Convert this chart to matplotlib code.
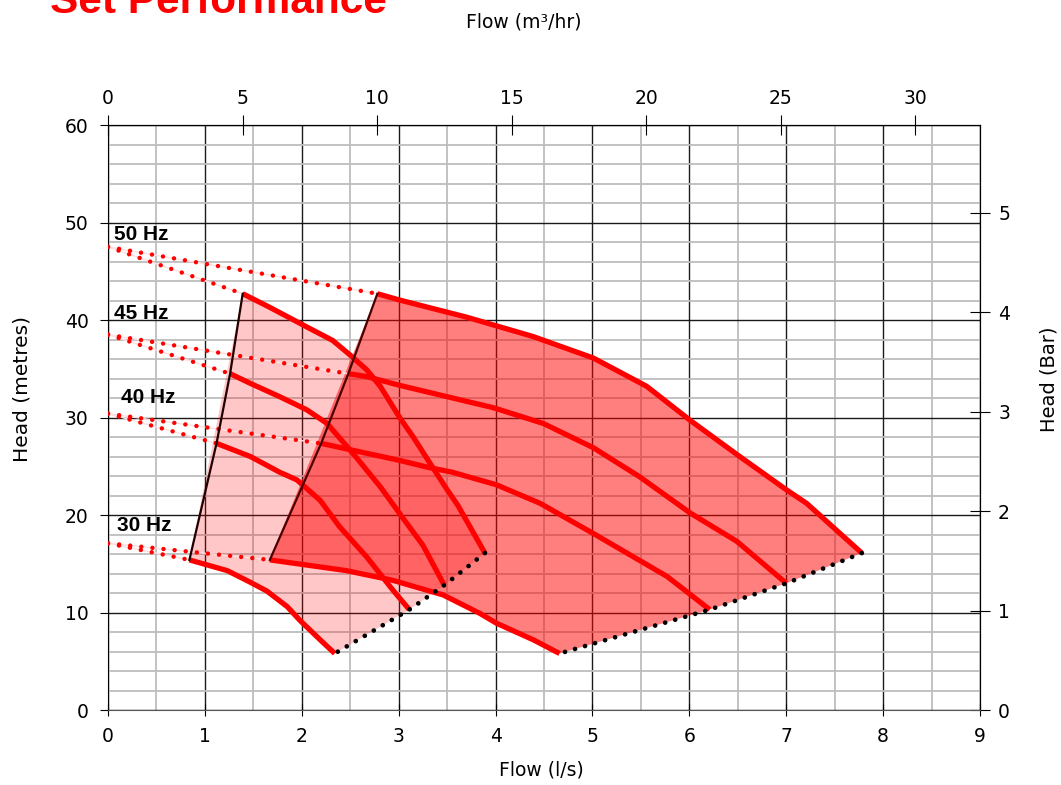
import numpy as np
import matplotlib.pyplot as plt

# frequencies and shut-off heads (m)
freqs = ['50 Hz', '45 Hz', '40 Hz', '30 Hz']
shutoff = [47.5, 38.5, 30.4, 17.1]

# single pump curves, flow (l/s) / head (m)
small_q = [
    [1.39, 1.67, 2.05, 2.32, 2.50, 2.67, 2.81, 3.01, 3.15, 3.35, 3.50, 3.61, 3.89],
    [1.26, 1.47, 1.78, 2.05, 2.26, 2.53, 2.81, 3.05, 3.25, 3.47],
    [1.12, 1.47, 1.77, 1.95, 2.19, 2.39, 2.67, 2.94, 3.11],
    [0.84, 1.23, 1.45, 1.64, 1.85, 1.98, 2.19, 2.34],
]
small_h = [
    [42.7, 41.3, 39.3, 37.9, 36.4, 34.9, 33.2, 30.0, 28.0, 24.9, 22.6, 21.0, 16.1],
    [34.5, 33.5, 32.1, 30.8, 29.4, 26.3, 22.9, 19.6, 16.9, 12.8],
    [27.35, 26.0, 24.4, 23.6, 21.5, 18.8, 15.7, 12.3, 10.3],
    [15.4, 14.3, 13.2, 12.2, 10.6, 9.2, 7.2, 5.8],
]

# twin pump curves
large_q = [
    [2.78, 3.01, 3.70, 4.39, 5.01, 5.56, 6.01, 6.52, 7.00, 7.21, 7.78],
    [2.48, 2.67, 3.01, 3.98, 4.49, 5.01, 5.49, 6.01, 6.49, 7.00],
    [2.20, 2.50, 3.01, 3.30, 3.55, 4.01, 4.46, 5.01, 5.77, 6.21],
    [1.67, 2.46, 2.94, 3.46, 3.84, 4.01, 4.39, 4.66],
]
large_h = [
    [42.7, 42.05, 40.3, 38.3, 36.1, 33.2, 29.7, 26.0, 22.6, 21.2, 16.1],
    [34.5, 34.2, 33.3, 31.0, 29.4, 26.9, 23.9, 20.2, 17.3, 13.0],
    [27.35, 26.7, 25.6, 24.9, 24.4, 23.1, 21.2, 18.1, 13.7, 10.3],
    [15.4, 14.3, 13.3, 11.8, 9.9, 8.9, 7.2, 5.8],
]

fig = plt.figure(figsize=(10.61, 7.85), dpi=100)
ax = fig.add_axes([0.1018, 0.0955, 0.8219, 0.7452])
plt.rcParams['font.family'] = 'DejaVu Sans'

# shaded operating areas
for qs, hs, alpha in [(small_q, small_h, 0.22), (large_q, large_h, 0.5)]:
    pq = qs[0] + [qs[1][-1], qs[2][-1]] + qs[3][::-1]
    ph = hs[0] + [hs[1][-1], hs[2][-1]] + hs[3][::-1]
    ax.fill(pq, ph, color='red', alpha=alpha, lw=0, zorder=2)

for qs, hs, lc in [(small_q, small_h, '#200000'), (large_q, large_h, '#4a0000')]:
    for i in range(4):
        # dotted extension to shut-off head
        ax.plot([0, qs[i][0]], [shutoff[i], hs[i][0]], color='#ffe0e0', lw=1, zorder=3)
        ax.plot([0, qs[i][0]], [shutoff[i], hs[i][0]], color='red', lw=3.2,
                linestyle=(0, (0.01, 2.5)), dash_capstyle='round', zorder=3)
        ax.plot(qs[i], hs[i], color='red', lw=3.8, solid_capstyle='butt',
                solid_joinstyle='round', zorder=4)
    # left limit line through curve starts
    ax.plot([q[0] for q in qs], [h[0] for h in hs], color=lc, lw=1.6, zorder=4)
    # end of curve limit
    ax.plot([q[-1] for q in qs], [h[-1] for h in hs], color='black', lw=3.4,
            linestyle=(0, (0.01, 2.2)), dash_capstyle='round', zorder=5)

lab_pos = [(0.06, 48.8), (0.06, 40.7), (0.13, 32.1), (0.09, 18.9)]
for f, (x, y) in zip(freqs, lab_pos):
    ax.text(x, y, f, fontsize=15, fontweight='bold', family='Liberation Sans',
            va='center', ha='left', zorder=6)

ax.set_xlim(0, 9)
ax.set_ylim(0, 60)
ax.set_xticks(range(10))
ax.set_xticks(np.arange(0, 9.01, 0.5), minor=True)
ax.set_yticks(range(0, 61, 10))
ax.set_yticks(range(0, 61, 2), minor=True)
ax.set_axisbelow(True)
ax.grid(which='minor', color='#bdbdbd', lw=1.3)
ax.grid(which='major', color='#1a1a1a', lw=1.0)
ax.spines['bottom'].set_color('#555555')
ax.tick_params(which='minor', length=0)
ax.tick_params(axis='x', which='major', direction='inout', length=8, pad=8, labelsize=13.5)
ax.tick_params(axis='y', which='major', direction='out', length=6, pad=8, labelsize=13.5)
ax.set_xlabel('Flow (l/s)', fontsize=13.5)
ax.xaxis.set_label_coords(0.497, -0.087)
ax.set_ylabel('Head (metres)', fontsize=14.5)
ax.yaxis.set_label_coords(-0.088, 0.548)

top = ax.secondary_xaxis('top', functions=(lambda q: q * 3.6, lambda m: m / 3.6))
top.set_xticks(range(0, 31, 5))
top.tick_params(direction='inout', length=14, pad=5, labelsize=13.5)
top.set_xlabel('Flow (m³/hr)', fontsize=13.5)
top.xaxis.set_label_coords(0.477, 1.167, transform=ax.transAxes)

right = ax.secondary_yaxis('right', functions=(lambda h: h / 10.2, lambda b: b * 10.2))
right.set_yticks(range(0, 6))
right.tick_params(direction='inout', length=14, pad=6, labelsize=13.5)
right.set_ylabel('Head (Bar)', fontsize=14)
right.yaxis.set_label_coords(1.068, 0.565, transform=ax.transAxes)

fig.text(50 / 1061, 1 - 13 / 785, 'Set Performance', color='red', fontsize=30.5,
         fontweight='bold', family='Liberation Sans', ha='left', va='baseline')

plt.savefig('out.png', dpi=100)
